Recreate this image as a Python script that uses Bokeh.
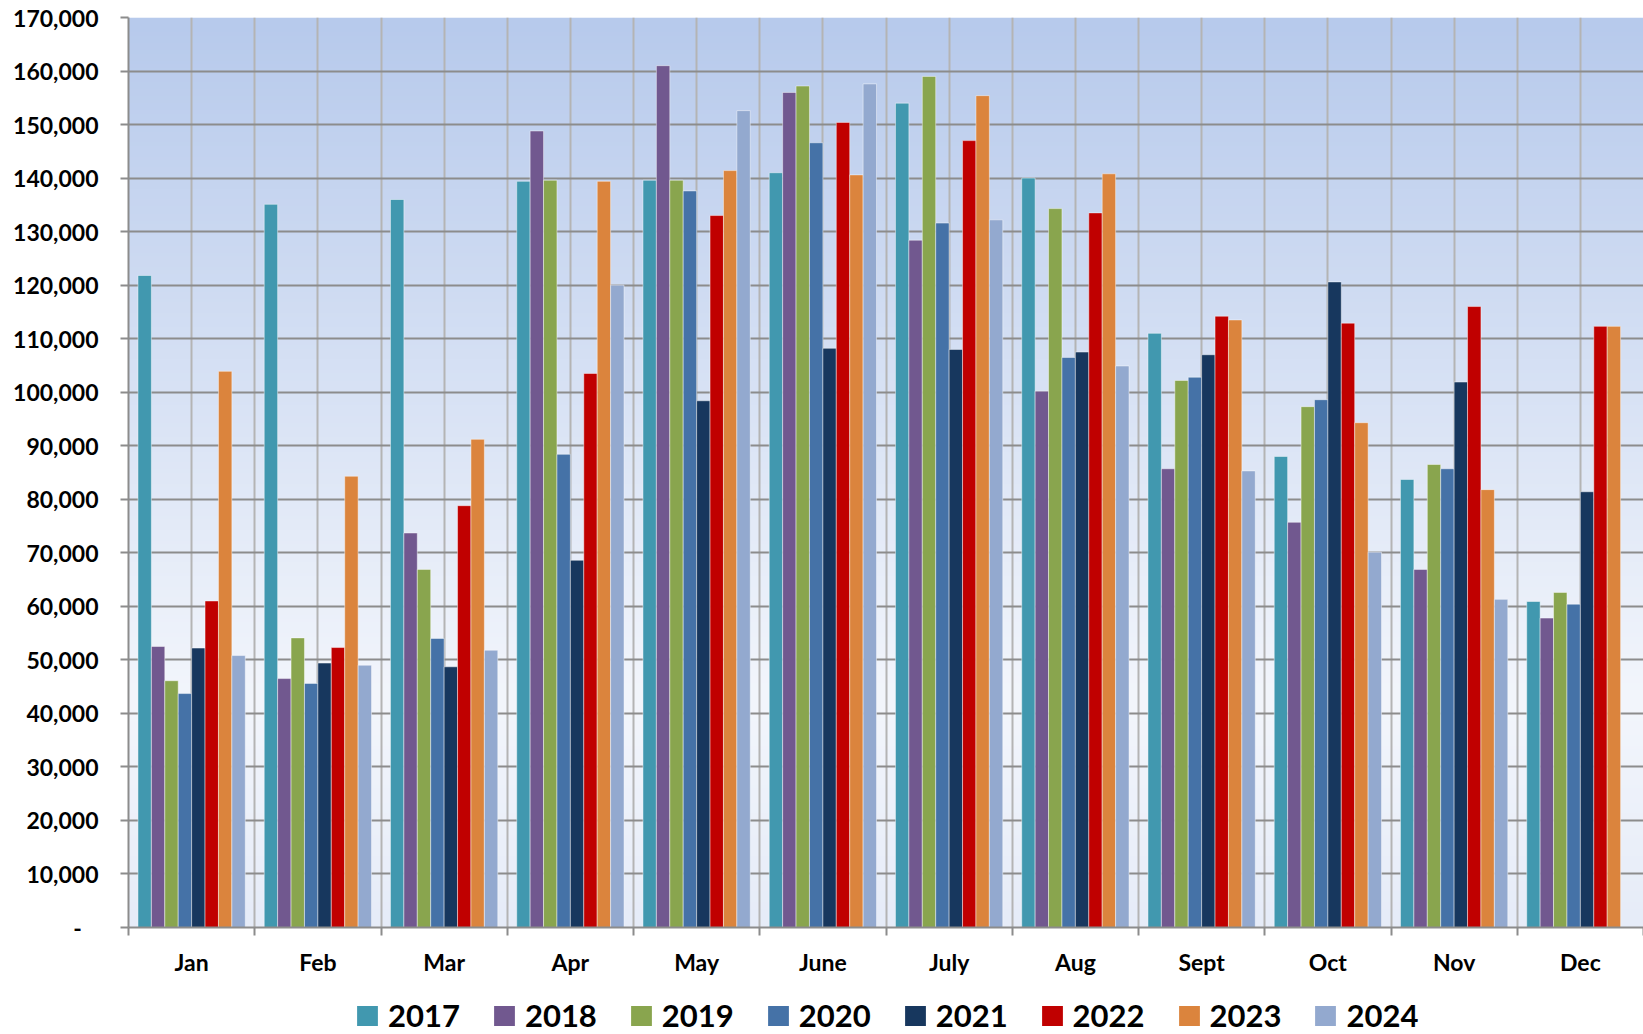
import numpy as np
from bokeh.plotting import figure
from bokeh.layouts import column
from bokeh.models import FixedTicker, NumeralTickFormatter, Legend, LegendItem, Range1d
from bokeh.embed import file_html
from bokeh.resources import INLINE

months = ["Jan", "Feb", "Mar", "Apr", "May", "June", "July", "Aug", "Sept", "Oct", "Nov", "Dec"]
years = ["2017", "2018", "2019", "2020", "2021", "2022", "2023", "2024"]
colors = ["#4198AF", "#71588F", "#89A54E", "#4572A7", "#17375E", "#C00000", "#DB843D", "#93A9CF"]

v2017 = [121800, 135100, 136000, 139400, 139600, 141000, 154000, 140000, 111000, 88000, 83700, 60900]
v2018 = [52500, 46500, 73700, 148800, 161000, 156000, 128400, 100200, 85700, 75700, 66900, 57800]
v2019 = [46100, 54100, 66900, 139600, 139600, 157200, 159000, 134300, 102200, 97300, 86500, 62600]
v2020 = [43700, 45600, 54000, 88400, 137600, 146600, 131600, 106500, 102800, 98600, 85700, 60400]
v2021 = [52200, 49400, 48700, 68600, 98400, 108200, 108000, 107500, 107000, 120600, 101900, 81400]
v2022 = [61000, 52300, 78800, 103500, 133000, 150400, 147000, 133500, 114200, 112900, 116000, 112300]
v2023 = [103900, 84300, 91200, 139400, 141400, 140600, 155400, 140800, 113500, 94300, 81800, 112300]
v2024 = [50800, 49000, 51800, 120000, 152600, 157600, 132200, 104900, 85300, 70100, 61300, float("nan")]
series = [v2017, v2018, v2019, v2020, v2021, v2022, v2023, v2024]

y_ticks = list(range(0, 170001, 10000))
ymax = y_ticks[-1]
nm = len(months)

p = figure(width=1643, height=990,
           x_range=Range1d(0, nm), y_range=Range1d(0, ymax),
           output_backend="svg", toolbar_location=None,
           min_border_left=128, min_border_right=0,
           min_border_top=17, min_border_bottom=63)
p.background_fill_color = "white"
p.border_fill_color = "white"
p.outline_line_color = None

# gradient background of the plot area
ny = 256
t = np.linspace(0, 1, ny)
stops_t = [0.0, 0.25, 1.0]
stops_c = np.array([[230, 236, 248], [243, 246, 252], [183, 202, 236]], dtype=float)
img = np.empty((ny, 1), dtype=np.uint32)
view = img.view(dtype=np.uint8).reshape((ny, 1, 4))
for k in range(3):
    view[:, 0, k] = np.interp(t, stops_t, stops_c[:, k]).astype(np.uint8)
view[:, 0, 3] = 255
p.image_rgba(image=[img], x=0, y=0, dw=nm, dh=ymax, level="image")

# bars
n = len(years)
group = 0.85
bw = group / n
centers = np.arange(nm) + 0.5
for i, (yr, vals, c) in enumerate(zip(years, series, colors)):
    x = centers + (i - (n - 1) / 2) * bw
    p.vbar(x=x, top=vals, bottom=0, width=bw, fill_color=c,
           line_color="white", line_alpha=0.45, line_width=1)

# grids
p.xgrid[0].ticker = FixedTicker(ticks=list(np.arange(0, nm + 0.01, 0.5)))
p.xgrid.grid_line_color = "#b4b4b4"
p.xgrid.grid_line_width = 2
p.ygrid[0].ticker = FixedTicker(ticks=y_ticks)
p.ygrid.grid_line_color = "#8c8c8c"
p.ygrid.grid_line_width = 2

# x axis
xa = p.xaxis[0]
xa.ticker = FixedTicker(ticks=list(centers), minor_ticks=list(range(nm + 1)))
xa.major_label_overrides = {float(c): m for c, m in zip(centers, months)}
xa.major_tick_out = 0
xa.major_tick_in = 0
xa.minor_tick_out = 8
xa.minor_tick_in = 0
xa.minor_tick_line_color = "#8c8c8c"
xa.minor_tick_line_width = 2
xa.axis_line_color = "#8c8c8c"
xa.axis_line_width = 2
xa.major_label_standoff = 12

# y axis
ya = p.yaxis[0]
ya.ticker = FixedTicker(ticks=y_ticks)
ya.formatter = NumeralTickFormatter(format="0,0")
ya.major_label_overrides = {0: "-\u00a0\u00a0\u00a0"}
ya.major_tick_out = 8
ya.major_tick_in = 0
ya.minor_tick_line_color = None
ya.major_tick_line_color = "#8c8c8c"
ya.major_tick_line_width = 2
ya.axis_line_color = "#8c8c8c"
ya.axis_line_width = 2
ya.major_label_standoff = 22

for ax in (xa, ya):
    ax.major_label_text_font = "Lato"
    ax.major_label_text_font_style = "bold"
    ax.major_label_text_font_size = "23px"
    ax.major_label_text_color = "black"

# legend strip below the chart
pl = figure(width=1643, height=44, x_range=Range1d(0, 1), y_range=Range1d(0, 1),
            x_axis_location=None, y_axis_location=None,
            output_backend="svg", toolbar_location=None,
            min_border_left=0, min_border_right=0, min_border_top=0, min_border_bottom=0)
pl.outline_line_color = None
pl.grid.visible = False
pl.border_fill_color = "white"
pl.background_fill_color = "white"
items = []
for yr, c in zip(years, colors):
    r = pl.vbar(x=[0.5], top=[-2], bottom=-3, width=0.1, fill_color=c, line_color=None)
    items.append(LegendItem(label=yr, renderers=[r]))

legend = Legend(items=items, orientation="horizontal", location=(226, 0))
legend.label_text_font = "Lato"
legend.label_text_font_style = "bold"
legend.label_text_font_size = "31px"
legend.label_text_color = "black"
legend.glyph_width = 26
legend.glyph_height = 25
legend.label_standoff = 8
legend.spacing = 31
legend.padding = 0
legend.margin = 0
legend.background_fill_alpha = 0
legend.border_line_color = None
pl.add_layout(legend)

layout = column(p, pl, spacing=0)
open("out.html", "w").write(file_html(layout, INLINE))
